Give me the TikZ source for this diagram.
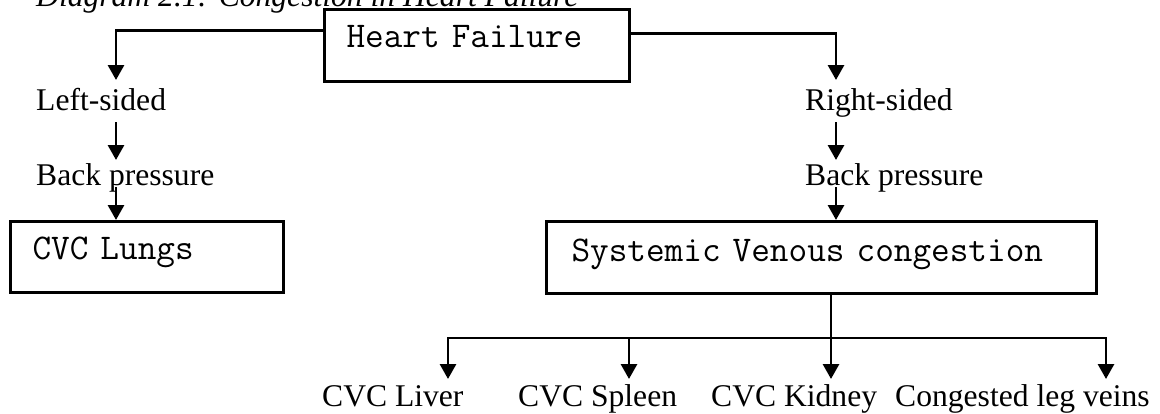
\documentclass[tikz,border=0pt]{standalone}
\usepackage{fontspec}
\setmainfont{Liberation Serif}
\usetikzlibrary{arrows.meta,calc}
\newcommand\serifsize{\fontsize{31.6}{38}\selectfont}
\newcommand\monosize{\fontsize{36.2}{42}\selectfont\ttfamily}

\begin{document}
\begin{tikzpicture}[x=1pt,y=-1pt,
  every node/.style={inner sep=0pt},
  lbl/.style={anchor=base west, font=\serifsize},
  textbox/.style={draw, line width=3pt, anchor=north west, inner xsep=22pt,
    inner ysep=0pt, align=left, font=\monosize},
  conn/.style={line width=2.9pt},
  arr/.style={conn, -{Triangle[width=16pt,length=15pt]}}]

\useasboundingbox (0,0) rectangle (1160,413);
\clip (0,0) rectangle (1160,413);

% caption (runs off the top edge)
\node[lbl, font=\serifsize\itshape] (title) at (36,6) {Diagram 2.1: Congestion in Heart Failure};

% boxes
\node[textbox, text width=261pt, text height=38pt, text depth=34pt] (heart) at (323,8) {Heart Failure};
\node[textbox, text width=229pt, text height=38pt, text depth=33pt] (lungs) at (9,220) {CVC Lungs};
\node[textbox, inner xsep=25pt, text width=500pt, text height=40pt, text depth=32pt] (systemic) at (545,220) {Systemic Venous congestion};

% plain labels
\node[lbl] (leftsided)  at (36,110)  {Left-sided};
\node[lbl] (rightsided) at (805,110) {Right-sided};
\node[lbl] (backL)      at (36,185)  {Back pressure};
\node[lbl] (backR)      at (805,185) {Back pressure};
\node[lbl] (liver)      at (322,406) {CVC Liver};
\node[lbl] (spleen)     at (518,406) {CVC Spleen};
\node[lbl] (kidney)     at (711,406) {CVC Kidney};
\node[lbl] (legs)       at (895,406) {Congested leg veins};

% columns of the two branches
\coordinate (colL) at (116,0);
\coordinate (colR) at (836,0);

\draw[arr] ([yshift=15pt]heart.west) -| ($(leftsided.base -| colL)+(0,-30)$);
\draw[arr] ([yshift=12pt]heart.east) -| ($(rightsided.base -| colR)+(0,-30)$);
\draw[arr] ($(leftsided.base -| colL)+(0,12)$) -- ($(backL.base -| colL)+(0,-25)$);
\draw[arr] ($(rightsided.base -| colR)+(0,12)$) -- ($(backR.base -| colR)+(0,-25)$);
\draw[arr] ($(backL.base -| colL)+(0,2)$) -- (lungs.north -| colL);
\draw[arr] ($(backR.base -| colR)+(0,2)$) -- (systemic.north -| colR);

% distribution bar below the systemic box
\coordinate (bar)    at (0,338);
\coordinate (xLiver) at (448,0);
\coordinate (xSpleen) at (629,0);
\coordinate (xKidney) at (831,0);
\coordinate (xLegs)  at (1106,0);

\draw[conn] (systemic.south -| xKidney) -- (bar -| xKidney);
\draw[conn, line cap=rect] (bar -| xLiver) -- (bar -| xLegs);
\foreach \n/\x in {liver/xLiver, spleen/xSpleen, kidney/xKidney, legs/xLegs}
  \draw[arr] (bar -| \x) -- ($(\n.base -| \x)+(0,-27)$);
\end{tikzpicture}
\end{document}
